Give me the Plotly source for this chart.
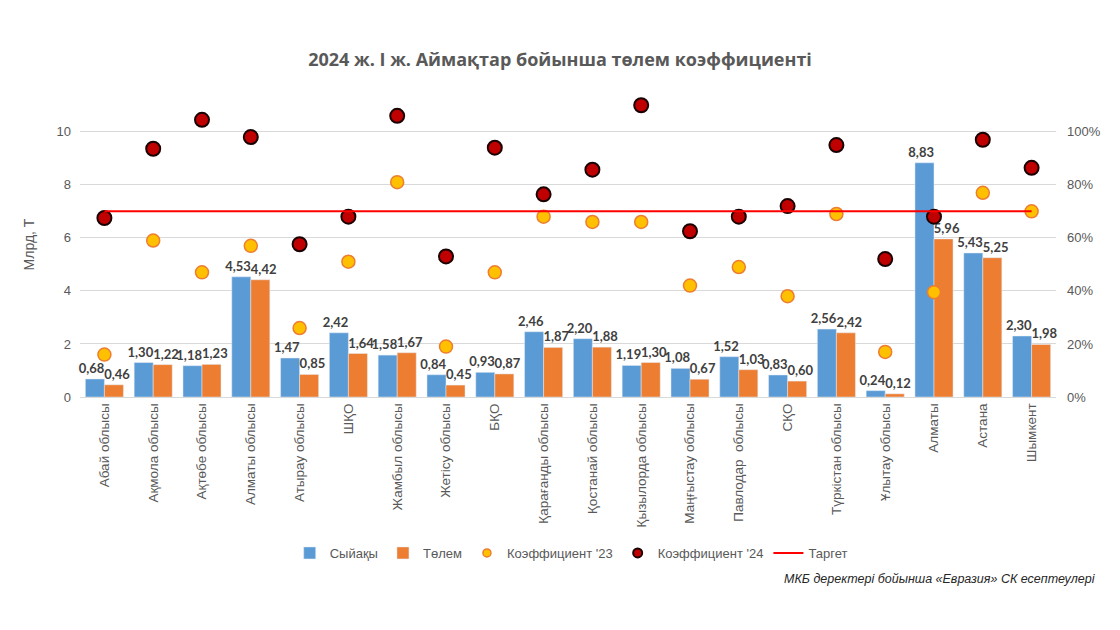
import plotly.graph_objects as go

categories = ["Абай облысы", "Ақмола облысы", "Ақтөбе облысы", "Алматы облысы", "Атырау облысы",
              "ШҚО", "Жамбыл облысы", "Жетісу облысы", "БҚО", "Қарағанды облысы",
              "Қостанай облысы", "Қызылорда облысы", "Маңғыстау облысы", "Павлодар  облысы", "СҚО",
              "Түркістан облысы", "Ұлытау облысы", "Алматы", "Астана", "Шымкент"]
premiums = [0.68, 1.30, 1.18, 4.53, 1.47, 2.42, 1.58, 0.84, 0.93, 2.46,
            2.20, 1.19, 1.08, 1.52, 0.83, 2.56, 0.24, 8.83, 5.43, 2.30]
payments = [0.46, 1.22, 1.23, 4.42, 0.85, 1.64, 1.67, 0.45, 0.87, 1.87,
            1.88, 1.30, 0.67, 1.03, 0.60, 2.42, 0.12, 5.96, 5.25, 1.98]
coef23 = [0.16, 0.59, 0.47, 0.57, 0.26, 0.51, 0.81, 0.19, 0.47, 0.68,
          0.66, 0.66, 0.42, 0.49, 0.38, 0.69, 0.17, 0.395, 0.77, 0.70]
coef24 = [0.675, 0.936, 1.045, 0.98, 0.576, 0.68, 1.06, 0.53, 0.94, 0.764,
          0.857, 1.10, 0.625, 0.68, 0.72, 0.95, 0.52, 0.68, 0.97, 0.864]
target = [0.70] * len(categories)

title = "2024 ж. І ж. Аймақтар бойынша төлем коэффициенті"
source = "МКБ деректері бойынша «Евразия» СК есептеулері"

NB = "\u00a0"
fig = go.Figure()
label_font = dict(family="Lato, Open Sans", size=13, color="#404040")
y23 = dict(color="#FFC000", line=dict(color="#ED7D31", width=1.5))
r24 = dict(color="#C00000", line=dict(color="#1a0000", width=2))

fig.add_trace(go.Bar(x=categories, y=premiums, name="Сыйақы", marker_color="#5B9BD5",
                     texttemplate="<b>%{y:.2f}</b>" + NB * 2, textposition="outside",
                     textfont=label_font, constraintext="none", cliponaxis=False, legendrank=1))
fig.add_trace(go.Bar(x=categories, y=payments, name="Төлем", marker_color="#ED7D31",
                     texttemplate=NB * 2 + "<b>%{y:.2f}</b>", textposition="outside",
                     textfont=label_font, constraintext="none", cliponaxis=False, legendrank=2))
fig.add_trace(go.Scatter(x=categories, y=coef23, name="Коэффициент '23", mode="markers", yaxis="y2",
                         marker=dict(size=13, **y23), cliponaxis=False, showlegend=False,
                         legendgroup="c23"))
fig.add_trace(go.Scatter(x=categories, y=coef24, name="Коэффициент '24", mode="markers", yaxis="y2",
                         marker=dict(size=14, **r24), cliponaxis=False, showlegend=False,
                         legendgroup="c24"))
# legend entries with small marker symbols (as in the reference legend)
fig.add_trace(go.Scatter(x=[None], y=[None], name="Коэффициент '23", mode="markers", yaxis="y2",
                         marker=dict(size=8, **y23), legendgroup="c23", legendrank=3))
fig.add_trace(go.Scatter(x=[None], y=[None], name="Коэффициент '24", mode="markers", yaxis="y2",
                         marker=dict(size=9, **r24), legendgroup="c24", legendrank=4))
fig.add_trace(go.Scatter(x=categories, y=target, name="Таргет", mode="lines", yaxis="y2",
                         line=dict(color="#FF0000", width=2), legendrank=5))

fig.update_layout(
    width=1120, height=630,
    paper_bgcolor="white", plot_bgcolor="white",
    separators=", ",
    barmode="group", bargap=0.22, bargroupgap=0,
    margin=dict(l=80, r=64, t=92, b=233, autoexpand=False),
    title=dict(text="<b>" + title + "</b>", x=0.5, xanchor="center", yref="container",
               y=1 - 60 / 630, yanchor="middle",
               font=dict(family="Open Sans, DejaVu Sans", size=18, color="#595959")),
    font=dict(family="Liberation Sans, Arial", color="#595959"),
    xaxis=dict(tickangle=-90, tickfont=dict(family="Liberation Sans, Arial", size=13.5, color="#595959"),
               range=[-0.5, len(categories) - 0.5],
               showline=True, linecolor="#D9D9D9", ticks="", showgrid=False, automargin=False),
    yaxis=dict(range=[0, 11.5], tickvals=[0, 2, 4, 6, 8, 10], showgrid=True, gridcolor="#D9D9D9",
               zeroline=False, tickfont=dict(size=13, color="#595959"), ticklabelstandoff=8,
               automargin=False,
               title=dict(text="Млрд, Т", font=dict(size=14, color="#595959"), standoff=18)),
    yaxis2=dict(range=[0, 1.15], tickvals=[0, 0.2, 0.4, 0.6, 0.8, 1.0], tickformat=".0%",
                overlaying="y", side="right", showgrid=False, zeroline=False, automargin=False,
                ticklabelstandoff=10, tickfont=dict(size=13, color="#595959")),
    legend=dict(orientation="h", x=0.51, xref="container", xanchor="center", yref="container",
                y=1 - 553 / 630, yanchor="middle", itemsizing="trace",
                font=dict(family="Liberation Sans, Arial", size=13, color="#595959"),
                traceorder="normal"),
    showlegend=True,
)
fig.add_annotation(text="<i>" + source + "</i>", xref="paper", yref="paper", x=(1098 - 80) / 976,
                   y=(397 - 579) / 305, xanchor="right", yanchor="middle", showarrow=False,
                   font=dict(family="Liberation Sans, Arial", size=12.5, color="#262626"))

fig.write_html("out.html", config={"displayModeBar": False},
               post_script="document.body.style.margin='0';")
